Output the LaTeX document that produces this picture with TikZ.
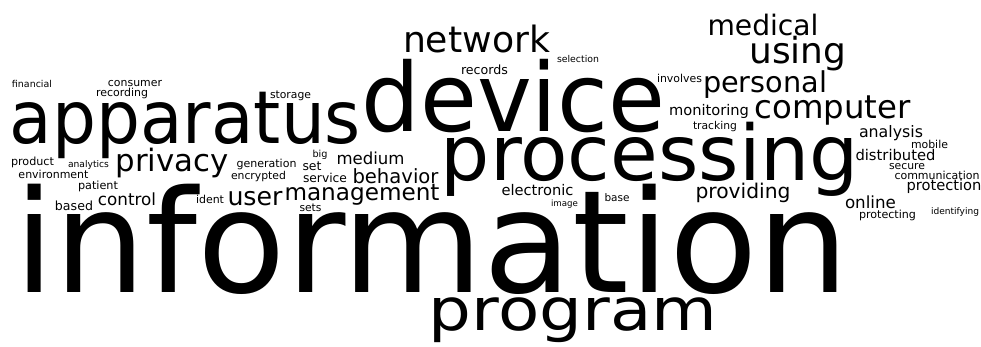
\documentclass[tikz,border=0pt]{standalone}
\usepackage{fontspec}
\setmainfont{DejaVu Sans}
\usepackage{graphicx}
\usetikzlibrary{positioning}

% word of the cloud: width, x-height (or !), text
\newcommand{\cw}[3]{\resizebox{#1pt}{#2}{\raisebox{0pt}[1ex][0pt]{#3}}}

\begin{document}
\begin{tikzpicture}[x=1pt, y=-1pt, word/.style={anchor=base, inner sep=0pt, outer sep=0pt, text=black}]
    \useasboundingbox (0,0) rectangle (981,346);

    % large words
    \node[word] (information) at (432,292) {\cw{834}{78pt}{information}};
    \node[word] (device) at (513.5,131) {\cw{304}{52pt}{device}};
    \node[word] (processing) at (650,180) {\cw{418}{42pt}{processing}};
    \node[word] (apparatus) at (185.5,143) {\cw{351}{40pt}{apparatus}};
    \node[word] (program) at (573,330) {\cw{288}{32pt}{program}};

    % medium words
    \node[word] (network) at (476.5,52) {\cw{147}{!}{network}};
    \node[word] (medical) at (763,35) {\cw{111}{!}{medical}};
    \node[word] (using) at (798,63) {\cw{97}{!}{using}};
    \node[word] (personal) at (765,92) {\cw{124}{!}{personal}};
    \node[word] (computer) at (832.5,118) {\cw{156}{!}{computer}};
    \node[word] (privacy) at (172,171) {\cw{113}{!}{privacy}};
    \node[word] (user) at (255,205) {\cw{55}{!}{user}};
    \node[word] (management) at (362,200) {\cw{155}{!}{management}};
    \node[word] (behavior) at (395.5,183) {\cw{86}{!}{behavior}};
    \node[word] (medium) at (370.5,164) {\cw{68}{!}{medium}};
    \node[word] (control) at (127,205) {\cw{58}{!}{control}};
    \node[word] (providing) at (743,198) {\cw{95}{!}{providing}};
    \node[word] (analysis) at (891,137) {\cw{64}{!}{analysis}};
    \node[word] (distributed) at (895.5,160) {\cw{80}{!}{distributed}};
    \node[word] (protection) at (944,190) {\cw{75}{!}{protection}};
    \node[word] (online) at (870.5,208) {\cw{51}{!}{online}};
    \node[word] (electronic) at (537.5,195) {\cw{72}{!}{electronic}};
    \node[word] (communication) at (937,179) {\cw{85}{!}{communication}};
    \node[word] (monitoring) at (709,115) {\cw{80}{!}{monitoring}};

    % small words
    \node[word] (secure) at (907,169) {\cw{36}{!}{secure}};
    \node[word] (mobile) at (929.5,148) {\cw{37}{!}{mobile}};
    \node[word] (protecting) at (887.5,218) {\cw{57}{!}{protecting}};
    \node[word] (identifying) at (955,214) {\cw{48}{!}{identifying}};
    \node[word] (tracking) at (715,129) {\cw{44}{!}{tracking}};
    \node[word] (involves) at (679.5,82) {\cw{45}{!}{involves}};
    \node[word] (records) at (484.5,74) {\cw{47}{!}{records}};
    \node[word] (selection) at (578,62) {\cw{42}{!}{selection}};
    \node[word] (financial) at (32,87) {\cw{40}{!}{financial}};
    \node[word] (consumer) at (135,86) {\cw{54}{!}{consumer}};
    \node[word] (recording) at (122,96) {\cw{52}{!}{recording}};
    \node[word] (storage) at (290.5,98) {\cw{41}{!}{storage}};
    \node[word] (product) at (32.5,165) {\cw{43}{!}{product}};
    \node[word] (analytics) at (88.5,167) {\cw{41}{!}{analytics}};
    \node[word] (environment) at (53.5,178) {\cw{70}{!}{environment}};
    \node[word] (patient) at (98,189) {\cw{40}{!}{patient}};
    \node[word] (based) at (74,210) {\cw{38}{!}{based}};
    \node[word] (ident) at (210,203) {\cw{28}{!}{ident}};
    \node[word] (generation) at (266.5,167) {\cw{60}{!}{generation}};
    \node[word] (encrypted) at (258.5,179) {\cw{55}{!}{encrypted}};
    \node[word] (big) at (320,157) {\cw{15}{!}{big}};
    \node[word] (set) at (312,170) {\cw{19}{!}{set}};
    \node[word] (service) at (325,182) {\cw{44}{!}{service}};
    \node[word] (sets) at (310.5,211) {\cw{22}{!}{sets}};
    \node[word] (image) at (564.5,206) {\cw{27}{!}{image}};
    \node[word] (base) at (617,201) {\cw{25}{!}{base}};
\end{tikzpicture}
\end{document}
